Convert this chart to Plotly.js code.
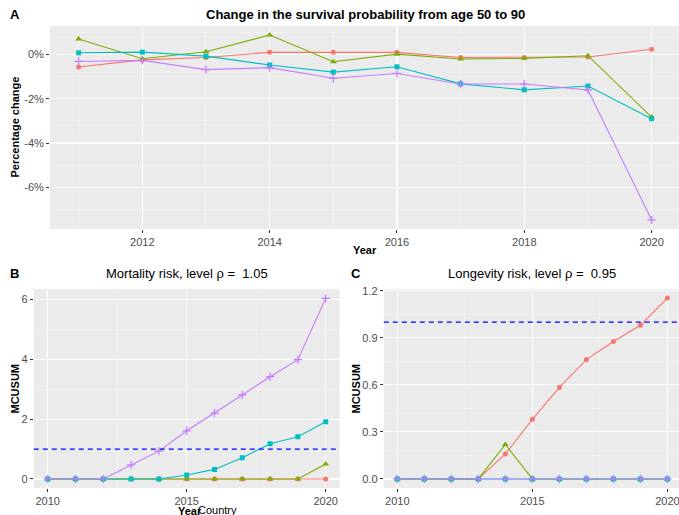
<!DOCTYPE html>
<html>
<head>
<meta charset="utf-8">
<script src="https://cdn.plot.ly/plotly-3.0.1.min.js"></script>
<style>html,body{margin:0;padding:0;background:#fff;}#chart{width:679px;height:515px;}</style>
</head>
<body>
<div id="chart"></div>
<script>
// ---------- data ----------
const countries = ["Country 1", "Country 2", "Country 3", "Country 4"];
const yearsA = [2011, 2012, 2013, 2014, 2015, 2016, 2017, 2018, 2019, 2020];
const changeRed    = [-0.57, -0.25, -0.14, 0.09, 0.09, 0.09, -0.14, -0.14, -0.12, 0.23];
const changeGreen  = [0.69, -0.20, 0.12, 0.87, -0.33, 0.01, -0.21, -0.18, -0.06, -2.83];
const changeCyan   = [0.07, 0.10, -0.08, -0.48, -0.80, -0.56, -1.33, -1.60, -1.43, -2.90];
const changePurple = [-0.32, -0.27, -0.69, -0.60, -1.08, -0.86, -1.34, -1.34, -1.61, -7.47];

const yearsB = [2010, 2011, 2012, 2013, 2014, 2015, 2016, 2017, 2018, 2019, 2020];
const mortRed    = [0, 0, 0, 0, 0, 0, 0, 0, 0, 0, 0];
const mortGreen  = [0, 0, 0, 0, 0, 0, 0, 0, 0, 0, 0.50];
const mortCyan   = [0, 0, 0, 0, 0, 0.13, 0.32, 0.71, 1.18, 1.41, 1.91];
const mortPurple = [0, 0, 0, 0.47, 0.93, 1.61, 2.20, 2.81, 3.42, 3.99, 6.04];

const longRed    = [0, 0, 0, 0, 0.159, 0.38, 0.583, 0.761, 0.876, 0.98, 1.153];
const longGreen  = [0, 0, 0, 0, 0.22, 0, 0, 0, 0, 0, 0];
const longCyan   = [0, 0, 0, 0, 0, 0, 0, 0, 0, 0, 0];
const longPurple = [0, 0, 0, 0, 0, 0, 0, 0, 0, 0, 0];

const threshold = 1;
const tickA = [-6, -4, -2, 0];
const tickALabels = ["-6%", "-4%", "-2%", "0%"];

// ---------- styles ----------
const colors = ["#F8766D", "#7CAE00", "#00BFC4", "#C77CFF"];
const symbols = ["circle", "triangle-up", "square", "cross-thin"];
const sizes = [5, 6, 5, 6];
const W = 679, H = 515;
const fx = p => p / W;
const fy = p => 1 - p / H;
const FONT = "Liberation Sans, Arial, Helvetica, sans-serif";

function panel(xs, series, xa, ya) {
  const tr = [];
  series.forEach((ys, i) => tr.push({
    x: xs, y: ys, xaxis: xa, yaxis: ya, type: "scatter", mode: "lines",
    name: countries[i], showlegend: false, hoverinfo: "skip",
    line: {color: colors[i], width: 1.1}
  }));
  series.forEach((ys, i) => tr.push({
    x: xs, y: ys, xaxis: xa, yaxis: ya, type: "scatter", mode: "markers",
    name: countries[i], showlegend: false,
    marker: {color: colors[i], symbol: symbols[i], size: sizes[i],
             line: {color: colors[i], width: symbols[i] === "cross-thin" ? 1.2 : 0}}
  }));
  return tr;
}

const traces = [].concat(
  panel(yearsA, [changeRed, changeGreen, changeCyan, changePurple], "x", "y"),
  panel(yearsB, [mortRed, mortGreen, mortCyan, mortPurple], "x2", "y2"),
  panel(yearsB, [longRed, longGreen, longCyan, longPurple], "x3", "y3")
);

const axBase = {
  showline: false, zeroline: false, ticks: "outside", ticklen: 3, tickwidth: 1,
  tickcolor: "#333333", gridcolor: "#FFFFFF", gridwidth: 1.1,
  tickfont: {family: FONT, size: 11, color: "#4D4D4D"}, fixedrange: true,
  ticklabeloverflow: "allow"
};
function ax(extra) { return Object.assign({}, axBase, extra); }
const minorGrid = (vals) => ({tickvals: vals, showgrid: true, gridcolor: "#F5F5F5", gridwidth: 0.6, ticks: ""});

const layout = {
  width: W, height: H,
  margin: {l: 0, r: 0, t: 0, b: 0},
  paper_bgcolor: "#FFFFFF", plot_bgcolor: "#EBEBEB",
  font: {family: FONT},
  showlegend: false,
  xaxis: ax({domain: [fx(50), 1], range: [2010.55, 2020.43], anchor: "y",
    tickvals: [2012, 2014, 2016, 2018, 2020], minor: minorGrid([2011, 2013, 2015, 2017, 2019])}),
  yaxis: ax({domain: [fy(229), fy(26)], range: [-7.88, 1.28], anchor: "x",
    tickvals: tickA, ticktext: tickALabels, minor: minorGrid([-7, -5, -3, -1, 1])}),
  xaxis2: ax({domain: [fx(33.8), fx(339.6)], range: [2009.5, 2020.5], anchor: "y2",
    tickvals: [2010, 2015, 2020], minor: minorGrid([2012.5, 2017.5])}),
  yaxis2: ax({domain: [fy(488), fy(289)], range: [-0.3025, 6.3525], anchor: "x2",
    tickvals: [0, 2, 4, 6], minor: minorGrid([1, 3, 5])}),
  xaxis3: ax({domain: [fx(383.8), 1], range: [2009.5, 2020.43], anchor: "y3",
    tickvals: [2010, 2015, 2020], minor: minorGrid([2012.5, 2017.5])}),
  yaxis3: ax({domain: [fy(488), fy(289)], range: [-0.0577, 1.2107], anchor: "x3",
    tickvals: [0, 0.3, 0.6, 0.9, 1.2], ticktext: ["0.0", "0.3", "0.6", "0.9", "1.2"],
    minor: minorGrid([0.15, 0.45, 0.75, 1.05])}),
  shapes: [
    {type: "line", xref: "x2 domain", yref: "y2", x0: 0, x1: 1, y0: threshold, y1: threshold,
     line: {color: "#0000FF", width: 1.3, dash: "5px,4px"}, layer: "above"},
    {type: "line", xref: "x3 domain", yref: "y3", x0: 0, x1: 1, y0: threshold, y1: threshold,
     line: {color: "#0000FF", width: 1.3, dash: "5px,4px"}, layer: "above"}
  ],
  annotations: []
};

function ann(text, px, py, opts) {
  layout.annotations.push(Object.assign({
    text: text, xref: "paper", yref: "paper", x: fx(px), y: fy(py),
    showarrow: false, xanchor: "center", yanchor: "middle",
    font: {family: FONT, size: 11, color: "#000000"}
  }, opts || {}));
}
// panel letters & titles
ann("<b>A</b>", 8, 14, {xanchor: "left", font: {family: FONT, size: 13, color: "#000"}});
ann("<b>Change in the survival probability from age 50 to 90</b>", 365, 14, {font: {family: FONT, size: 13, color: "#000"}});
ann("<b>B</b>", 8, 273, {xanchor: "left", font: {family: FONT, size: 13, color: "#000"}});
ann("Mortality risk, level ρ =  1.05", 186.5, 273, {font: {family: FONT, size: 13, color: "#000"}});
ann("<b>C</b>", 349, 273, {xanchor: "left", font: {family: FONT, size: 13, color: "#000"}});
ann("Longevity risk, level ρ =  0.95", 532, 273, {font: {family: FONT, size: 13, color: "#000"}});
// axis titles
ann("<b>Percentage change</b>", 14, 127.5, {textangle: -90});
ann("<b>Year</b>", 365, 250);
ann("<b>MCUSUM</b>", 14, 388.5, {textangle: -90});
ann("<b>MCUSUM</b>", 355, 388.5, {textangle: -90});
ann("<b>Year</b>", 176, 503, {xanchor: "left", yanchor: "top"});
ann("Country", 196, 502, {xanchor: "left", yanchor: "top"});

Plotly.newPlot("chart", traces, layout, {staticPlot: true, displayModeBar: false});
</script>
</body>
</html>
